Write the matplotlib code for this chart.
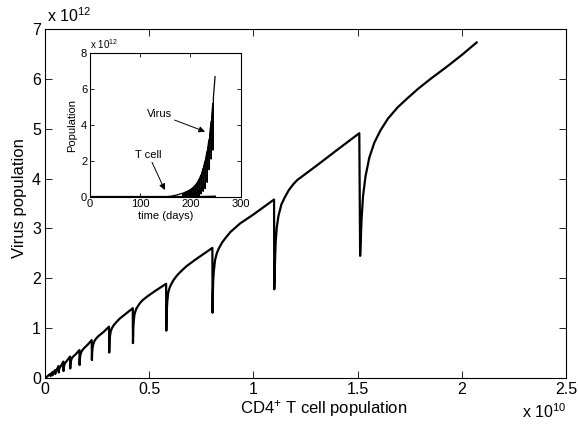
import matplotlib
matplotlib.use("Agg")
import matplotlib.pyplot as plt

plt.rcParams['font.family'] = ['Liberation Sans', 'DejaVu Sans']
plt.rcParams['mathtext.default'] = 'regular'

# Phase-plane trajectory: CD4+ T cells (x 1e10) vs virus (x 1e12)
tcell_pop = [
    0.0, 0.010, 0.020, 0.026,
    0.027, 0.028, 0.032, 0.035,
    0.036, 0.037, 0.041, 0.048,
    0.049, 0.050, 0.054, 0.065,
    0.066, 0.067, 0.070, 0.076, 0.088,
    0.089, 0.090, 0.092, 0.096, 0.104, 0.120,
    0.121, 0.122, 0.124, 0.128, 0.135, 0.148, 0.165,
    0.166, 0.167, 0.169, 0.173, 0.179, 0.190, 0.205, 0.224,
    0.225, 0.226, 0.228, 0.231, 0.236, 0.243, 0.256, 0.280, 0.307,
    0.308, 0.309, 0.310, 0.312, 0.315, 0.320, 0.328, 0.340, 0.358, 0.385, 0.421,
    0.422, 0.423, 0.424, 0.426, 0.429, 0.433, 0.438, 0.447, 0.457, 0.468, 0.492, 0.530, 0.581,
    0.582, 0.583, 0.585, 0.587, 0.591, 0.597, 0.604, 0.616, 0.630, 0.645, 0.678, 0.720, 0.803,
    0.804, 0.805, 0.807, 0.810, 0.816, 0.824, 0.834, 0.850, 0.870, 0.890, 0.936, 1.000, 1.099,
    1.100, 1.102, 1.104, 1.107, 1.112, 1.120, 1.134, 1.150, 1.170, 1.190, 1.210, 1.300, 1.400, 1.508,
    1.512, 1.515, 1.519, 1.526, 1.538, 1.556, 1.580, 1.610, 1.645, 1.690, 1.736, 1.790, 1.850,
    1.930, 2.000, 2.071,
]
virus_pop = [
    0.0, 0.030, 0.065, 0.085,
    0.040, 0.065, 0.080, 0.115,
    0.055, 0.090, 0.110, 0.160,
    0.080, 0.120, 0.150, 0.240,
    0.110, 0.160, 0.200, 0.240, 0.330,
    0.140, 0.210, 0.260, 0.300, 0.340, 0.430,
    0.190, 0.280, 0.340, 0.390, 0.430, 0.480, 0.560,
    0.260, 0.370, 0.450, 0.510, 0.560, 0.610, 0.670, 0.760,
    0.360, 0.500, 0.600, 0.670, 0.730, 0.780, 0.840, 0.920, 1.030,
    0.510, 0.660, 0.770, 0.850, 0.930, 0.990, 1.050, 1.110, 1.190, 1.280, 1.400,
    0.700, 0.890, 1.040, 1.150, 1.270, 1.330, 1.390, 1.450, 1.510, 1.560, 1.640, 1.750, 1.890,
    0.950, 1.200, 1.410, 1.550, 1.710, 1.800, 1.870, 1.960, 2.040, 2.110, 2.240, 2.370, 2.610,
    1.310, 1.650, 1.950, 2.150, 2.370, 2.500, 2.600, 2.720, 2.830, 2.930, 3.100, 3.280, 3.580,
    1.780, 2.100, 2.400, 2.750, 3.020, 3.250, 3.480, 3.620, 3.770, 3.880, 3.970, 4.250, 4.570, 4.910,
    2.450, 2.750, 3.200, 3.650, 4.050, 4.420, 4.720, 4.970, 5.200, 5.420, 5.600, 5.800, 6.000,
    6.250, 6.480, 6.730,
]

# Time course (days) of virus (x 1e12)
virus_days = [
    0, 150, 160, 170, 178, 185,
    185.2, 186.2, 189, 189.2, 190.2, 193, 193.2, 194.2, 197, 197.2, 198.2,
    201, 201.2, 202.2, 205, 205.2, 206.2, 209, 209.2, 210.2, 213, 213.2, 214.2,
    217, 217.2, 218.2, 221, 221.2, 222.2, 225, 225.2, 226.2, 229, 229.2, 230.2,
    233, 233.2, 234.2, 237, 237.2, 238.2, 241, 241.2, 242.2, 244.5, 244.7, 245.7,
    249,
]
virus_time = [
    0.0, 0.0, 0.02, 0.08, 0.14, 0.20,
    0.0, 0.20, 0.25, 0.0, 0.26, 0.30, 0.0, 0.31, 0.35, 0.0, 0.37,
    0.42, 0.0, 0.44, 0.51, 0.0, 0.54, 0.63, 0.0, 0.66, 0.78, 0.02, 0.82,
    0.98, 0.05, 1.03, 1.22, 0.15, 1.30, 1.58, 0.30, 1.68, 2.00, 0.45, 2.12,
    2.55, 0.80, 2.70, 3.20, 1.50, 3.45, 4.20, 2.10, 4.50, 5.20, 2.60, 5.55,
    6.70,
]

# Time course of CD4+ T cells, in the same x 1e12 units as the virus
tcell_days = [0, 100, 150, 197, 212.5, 227, 238, 243, 249]
tcell_time = [0.0, 0.0002, 0.0005, 0.00088, 0.00224, 0.00581, 0.01099, 0.01508, 0.02071]

fig = plt.figure(figsize=(5.78, 4.28), dpi=100)

# ---- main phase-plane axes ----
ax = fig.add_axes([0.0779, 0.1168, 0.9014, 0.8154])
ax.plot(tcell_pop, virus_pop, color='black', linewidth=1.6)
ax.set_xlim(0, 2.5)
ax.set_ylim(0, 7)
ax.set_xticks([0, 0.5, 1, 1.5, 2, 2.5])
ax.set_xticklabels(['0', '0.5', '1', '1.5', '2', '2.5'])
ax.set_yticks(range(0, 8))
ax.tick_params(direction='in', length=5, width=0.6, labelsize=11.5,
               top=True, right=True, pad=3, colors='black')
for s in ax.spines.values():
    s.set_linewidth(0.8)
ax.set_xlabel('CD4$^{+}$ T cell population', fontsize=12)
ax.xaxis.set_label_coords(0.535, -0.058)
ax.set_ylabel('Virus population', fontsize=12)
ax.yaxis.set_label_coords(-0.034, 0.515)
fig.text(0.081, 0.948, 'x 10$^{12}$', fontsize=11.5, ha='left', va='baseline')
fig.text(0.903, 0.024, 'x 10$^{10}$', fontsize=11.5, ha='left', va='baseline')

# ---- inset time-course axes ----
ins = fig.add_axes([0.1557, 0.5404, 0.2607, 0.335])
ins.plot(virus_days, virus_time, color='black', linewidth=0.9)
ins.plot(tcell_days, tcell_time, color='black', linewidth=1.2)
ins.set_xlim(0, 300)
ins.set_ylim(0, 8)
ins.set_xticks([0, 100, 200, 300])
ins.set_yticks([0, 2, 4, 6, 8])
ins.tick_params(direction='in', length=3, width=0.6, labelsize=8,
                top=True, right=True, pad=2)
for s in ins.spines.values():
    s.set_linewidth(0.8)
ins.set_xlabel('time (days)', fontsize=8, labelpad=1)
ins.set_ylabel('Population', fontsize=8, labelpad=3)
ins.text(0.0, 1.015, 'x 10$^{12}$', transform=ins.transAxes, fontsize=7,
         ha='left', va='bottom')

arrow = dict(arrowstyle='-|>', color='black', linewidth=0.7,
             mutation_scale=9, shrinkA=0, shrinkB=0)
ins.annotate('Virus', xy=(229, 3.63), xytext=(113, 4.6), fontsize=8,
             va='center', ha='left', arrowprops=arrow)
ins.annotate('T cell', xy=(149, 0.37), xytext=(90, 2.35), fontsize=8,
             va='center', ha='left', arrowprops=arrow)

fig.savefig('out.png', dpi=100, facecolor='white')
